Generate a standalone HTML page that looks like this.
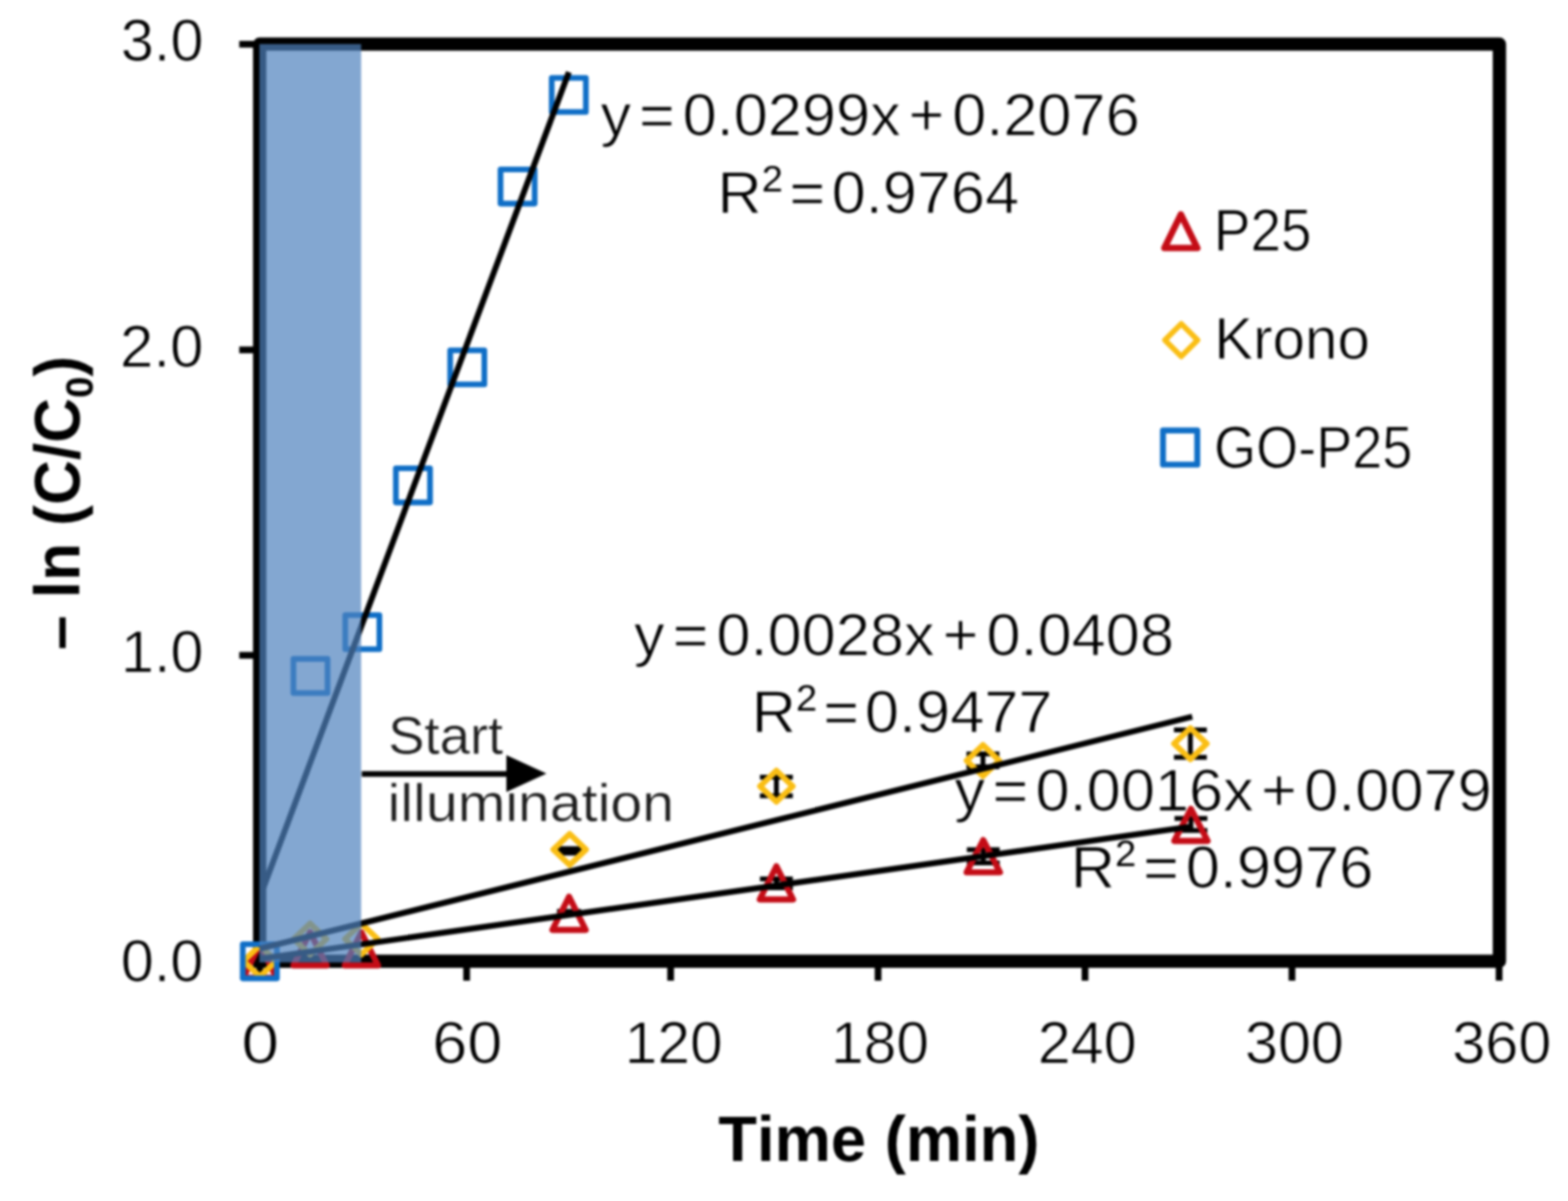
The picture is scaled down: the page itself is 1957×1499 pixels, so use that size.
<!DOCTYPE html>
<html lang="en">
<head>
<meta charset="utf-8">
<title>Photocatalytic kinetics: -ln(C/C0) versus time</title>
<style>
html,body{margin:0;padding:0;background:#fff;}
body{width:1957px;height:1499px;font-family:"Liberation Sans", Arial, Helvetica, sans-serif;}
svg text{font-family:"Liberation Sans", Arial, Helvetica, sans-serif;white-space:pre;}
</style>
</head>
<body>
<svg width="1957" height="1499" viewBox="0 0 1957 1499" role="img" aria-label="Chart of -ln(C/C0) versus time (min) for P25, Krono and GO-P25" font-family='"Liberation Sans", Arial, Helvetica, sans-serif' style="font-kerning:none;display:block">
<defs><filter id="soft" x="0" y="0" width="100%" height="100%" filterUnits="userSpaceOnUse" color-interpolation-filters="sRGB"><feGaussianBlur stdDeviation="1.35" edgeMode="duplicate"/></filter></defs>
<g filter="url(#soft)">
<rect width="1957" height="1499" fill="#fff"/>
<rect x="324.1" y="55.0" width="1547.3" height="1144.7" fill="none" stroke="#000" stroke-width="16.6" stroke-linejoin="round"/>
<rect x="315.80" y="1197.70" width="10.30" height="10.30" fill="#000"/>
<rect x="300.5" y="1195.5" width="18" height="8.4" fill="#000"/>
<rect x="320.1" y="1200" width="8.4" height="23.5" fill="#000"/>
<rect x="298.6" y="51.0" width="20" height="8.4" fill="#000"/>
<rect x="298.6" y="432.5" width="20" height="8.4" fill="#000"/>
<rect x="298.6" y="813.7" width="20" height="8.4" fill="#000"/>
<rect x="578.2" y="1200" width="8.4" height="24.0" fill="#000"/>
<rect x="832.8" y="1200" width="8.4" height="24.0" fill="#000"/>
<rect x="1091.7" y="1200" width="8.4" height="24.0" fill="#000"/>
<rect x="1350.0" y="1200" width="8.4" height="24.0" fill="#000"/>
<rect x="1608.3" y="1200" width="8.4" height="24.0" fill="#000"/>
<rect x="1866.8" y="1200" width="8.4" height="24.0" fill="#000"/>
<text x="150.77" y="76.40" font-size="75.00" textLength="103.12" lengthAdjust="spacingAndGlyphs" fill="#000" stroke="#fff" stroke-width="1" stroke-linejoin="round">3.0</text>
<text x="149.83" y="457.80" font-size="75.00" textLength="104.09" lengthAdjust="spacingAndGlyphs" fill="#000" stroke="#fff" stroke-width="1" stroke-linejoin="round">2.0</text>
<text x="150.96" y="839.30" font-size="75.00" textLength="102.93" lengthAdjust="spacingAndGlyphs" fill="#000" stroke="#fff" stroke-width="1" stroke-linejoin="round">1.0</text>
<text x="150.70" y="1224.60" font-size="75.00" textLength="103.20" lengthAdjust="spacingAndGlyphs" fill="#000" stroke="#fff" stroke-width="1" stroke-linejoin="round">0.0</text>
<text x="301.19" y="1327.10" font-size="75.00" textLength="47.12" lengthAdjust="spacingAndGlyphs" fill="#000" stroke="#fff" stroke-width="1" stroke-linejoin="round">0</text>
<text x="539.51" y="1327.10" font-size="75.00" textLength="87.46" lengthAdjust="spacingAndGlyphs" fill="#000" stroke="#fff" stroke-width="1" stroke-linejoin="round">60</text>
<text x="779.82" y="1327.10" font-size="75.00" textLength="122.14" lengthAdjust="spacingAndGlyphs" fill="#000" stroke="#fff" stroke-width="1" stroke-linejoin="round">120</text>
<text x="1037.33" y="1327.10" font-size="75.00" textLength="122.03" lengthAdjust="spacingAndGlyphs" fill="#000" stroke="#fff" stroke-width="1" stroke-linejoin="round">180</text>
<text x="1295.18" y="1327.10" font-size="75.00" textLength="123.41" lengthAdjust="spacingAndGlyphs" fill="#000" stroke="#fff" stroke-width="1" stroke-linejoin="round">240</text>
<text x="1553.68" y="1327.10" font-size="75.00" textLength="123.62" lengthAdjust="spacingAndGlyphs" fill="#000" stroke="#fff" stroke-width="1" stroke-linejoin="round">300</text>
<text x="1812.48" y="1327.10" font-size="75.00" textLength="123.62" lengthAdjust="spacingAndGlyphs" fill="#000" stroke="#fff" stroke-width="1" stroke-linejoin="round">360</text>
<text x="749.41" y="169.30" font-size="75.00" textLength="673.05" lengthAdjust="spacingAndGlyphs" fill="#000" stroke="#fff" stroke-width="1" stroke-linejoin="round" word-spacing="-11.22">y = 0.0299x + 0.2076</text>
<text x="895.52" y="266.30" font-size="75.00" textLength="376.42" lengthAdjust="spacingAndGlyphs" fill="#000" stroke="#fff" stroke-width="1" stroke-linejoin="round" word-spacing="-12.93">R<tspan font-size="46.5" dy="-27.0" stroke="none">2</tspan><tspan dy="27.0"> = 0.9764</tspan></text>
<text x="791.31" y="817.50" font-size="75.00" textLength="673.91" lengthAdjust="spacingAndGlyphs" fill="#000" stroke="#fff" stroke-width="1" stroke-linejoin="round" word-spacing="-11.01">y = 0.0028x + 0.0408</text>
<text x="938.32" y="913.60" font-size="75.00" textLength="375.22" lengthAdjust="spacingAndGlyphs" fill="#000" stroke="#fff" stroke-width="1" stroke-linejoin="round" word-spacing="-13.51">R<tspan font-size="46.5" dy="-27.0" stroke="none">2</tspan><tspan dy="27.0"> = 0.9477</tspan></text>
<text x="1191.31" y="1012.10" font-size="75.00" textLength="670.51" lengthAdjust="spacingAndGlyphs" fill="#000" stroke="#fff" stroke-width="1" stroke-linejoin="round" word-spacing="-11.84">y = 0.0016x + 0.0079</text>
<text x="1336.52" y="1108.20" font-size="75.00" textLength="377.44" lengthAdjust="spacingAndGlyphs" fill="#000" stroke="#fff" stroke-width="1" stroke-linejoin="round" word-spacing="-12.43">R<tspan font-size="46.5" dy="-27.0" stroke="none">2</tspan><tspan dy="27.0"> = 0.9976</tspan></text>
<path d="M711.0 1059.2V1064.8M696.0 1059.2h30M696.0 1064.8h30" fill="none" stroke="#000" stroke-width="5.8"/>
<path d="M969.0 969.9V993.3M948.5 969.9h41.0M948.5 993.3h41.0" fill="none" stroke="#000" stroke-width="6.0"/>
<path d="M1226.8 941.0V957.0M1206.3 941.0h41.0M1206.3 957.0h41.0" fill="none" stroke="#000" stroke-width="6.0"/>
<path d="M1485.7 911.0V945.2M1465.2 911.0h41.0M1465.2 945.2h41.0" fill="none" stroke="#000" stroke-width="6.0"/>
<path d="M710.2 1137.0V1141.0M695.2 1137.0h30M695.2 1141.0h30" fill="none" stroke="#000" stroke-width="5"/>
<path d="M969.0 1097.0V1108.0M948.5 1097.0h41.0M948.5 1108.0h41.0" fill="none" stroke="#000" stroke-width="6.0"/>
<path d="M1227.2 1060.5V1077.0M1206.7 1060.5h41.0M1206.7 1077.0h41.0" fill="none" stroke="#000" stroke-width="6.0"/>
<path d="M1486.4 1021.6V1036.5M1465.9 1021.6h41.0M1465.9 1036.5h41.0" fill="none" stroke="#000" stroke-width="6.0"/>
<path d="M324.3 1178.6L345.1 1220.2L303.5 1220.2Z" fill="none" stroke="#C40C16" stroke-width="7.6" stroke-linejoin="round"/>
<path d="M387.0 1163.6L407.8 1205.0L366.2 1205.0Z" fill="none" stroke="#C40C16" stroke-width="7.6" stroke-linejoin="round"/>
<path d="M451.0 1163.6L471.8 1205.0L430.2 1205.0Z" fill="none" stroke="#C40C16" stroke-width="7.6" stroke-linejoin="round"/>
<path d="M710.2 1119.2L731.0 1160.6L689.4 1160.6Z" fill="none" stroke="#C40C16" stroke-width="7.6" stroke-linejoin="round"/>
<path d="M969.0 1081.2L989.8 1122.6L948.2 1122.6Z" fill="none" stroke="#C40C16" stroke-width="7.6" stroke-linejoin="round"/>
<path d="M1227.2 1048.5L1248.0 1088.7L1206.4 1088.7Z" fill="none" stroke="#C40C16" stroke-width="7.6" stroke-linejoin="round"/>
<path d="M1486.4 1009.5L1507.2 1049.6L1465.6 1049.6Z" fill="none" stroke="#C40C16" stroke-width="7.6" stroke-linejoin="round"/>
<path d="M324.3 1180.1L344.7 1199.5L324.3 1218.9L303.9 1199.5Z" fill="none" stroke="#FABE14" stroke-width="7.2" stroke-linejoin="round"/>
<path d="M387.0 1152.6L407.4 1172.0L387.0 1191.4L366.6 1172.0Z" fill="none" stroke="#FABE14" stroke-width="7.2" stroke-linejoin="round"/>
<path d="M451.0 1152.6L471.4 1172.0L451.0 1191.4L430.6 1172.0Z" fill="none" stroke="#FABE14" stroke-width="7.2" stroke-linejoin="round"/>
<path d="M711.0 1040.9L731.4 1060.3L711.0 1079.7L690.6 1060.3Z" fill="none" stroke="#FABE14" stroke-width="7.2" stroke-linejoin="round"/>
<path d="M969.0 961.9L989.4 981.3L969.0 1000.7L948.6 981.3Z" fill="none" stroke="#FABE14" stroke-width="7.2" stroke-linejoin="round"/>
<path d="M1226.8 929.9L1247.2 949.3L1226.8 968.7L1206.4 949.3Z" fill="none" stroke="#FABE14" stroke-width="7.2" stroke-linejoin="round"/>
<path d="M1485.7 908.8L1506.1 928.2L1485.7 947.6L1465.3 928.2Z" fill="none" stroke="#FABE14" stroke-width="7.2" stroke-linejoin="round"/>
<rect x="303.0" y="1178.5" width="42.6" height="42.6" fill="none" stroke="#0F6EC6" stroke-width="7.1" stroke-linejoin="round"/>
<rect x="366.2" y="822.4" width="42.6" height="42.6" fill="none" stroke="#0F6EC6" stroke-width="7.1" stroke-linejoin="round"/>
<rect x="430.9" y="767.7" width="42.6" height="42.6" fill="none" stroke="#0F6EC6" stroke-width="7.1" stroke-linejoin="round"/>
<rect x="494.1" y="584.5" width="42.6" height="42.6" fill="none" stroke="#0F6EC6" stroke-width="7.1" stroke-linejoin="round"/>
<rect x="561.9" y="437.2" width="42.6" height="42.6" fill="none" stroke="#0F6EC6" stroke-width="7.1" stroke-linejoin="round"/>
<rect x="624.7" y="211.5" width="42.6" height="42.6" fill="none" stroke="#0F6EC6" stroke-width="7.1" stroke-linejoin="round"/>
<rect x="688.6" y="97.2" width="42.6" height="42.6" fill="none" stroke="#0F6EC6" stroke-width="7.1" stroke-linejoin="round"/>
<path d="M324.1 1120.5L710.0 90.0" stroke="#000" stroke-width="7.4" fill="none"/>
<path d="M324.1 1184.1L1488.0 894.5" stroke="#000" stroke-width="7.4" fill="none"/>
<path d="M324.1 1196.7L1487.0 1031.7" stroke="#000" stroke-width="7.4" fill="none"/>
<path d="M1473.8 267.8L1494.3 309.5L1453.3 309.5Z" fill="none" stroke="#C40C16" stroke-width="8.2" stroke-linejoin="round"/>
<path d="M1474.3 404.1L1494.7 424.5L1474.3 444.9L1453.9 424.5Z" fill="none" stroke="#FABE14" stroke-width="6.8" stroke-linejoin="round"/>
<rect x="1451.5" y="537.2" width="42.8" height="42.7" fill="none" stroke="#0F6EC6" stroke-width="7.4" stroke-linejoin="round"/>
<text x="1514.98" y="313.10" font-size="75.00" textLength="121.90" lengthAdjust="spacingAndGlyphs" fill="#000" stroke="#fff" stroke-width="1" stroke-linejoin="round">P25</text>
<text x="1515.53" y="448.30" font-size="75.00" textLength="194.23" lengthAdjust="spacingAndGlyphs" fill="#000" stroke="#fff" stroke-width="1" stroke-linejoin="round">Krono</text>
<text x="1515.31" y="583.70" font-size="75.00" textLength="247.53" lengthAdjust="spacingAndGlyphs" fill="#000" stroke="#fff" stroke-width="1" stroke-linejoin="round">GO-P25</text>
<rect x="323.8" y="55.0" width="126.9" height="1146.2" fill="#4F81BD" fill-opacity="0.70"/>
<text x="484.41" y="941.10" font-size="66.50" textLength="143.59" lengthAdjust="spacingAndGlyphs" fill="#1c1c1c" stroke="#fff" stroke-width="0.5" stroke-linejoin="round">Start</text>
<text x="483.82" y="1024.80" font-size="66.50" textLength="357.52" lengthAdjust="spacingAndGlyphs" fill="#1c1c1c" stroke="#fff" stroke-width="0.5" stroke-linejoin="round">illumination</text>
<path d="M451.5 966.0H640" stroke="#000" stroke-width="7.2" fill="none"/>
<path d="M632.0 942.6L682.0 965.6L632.0 988.6Z" fill="#000"/>
<text x="896.61" y="1448.50" font-size="79.00" textLength="400.72" lengthAdjust="spacingAndGlyphs" fill="#000" font-weight="bold" word-spacing="1.32">Time (min)</text>
<g transform="translate(99.0 809.0) rotate(-90)"><text x="-2.35" y="0" font-size="79.0" font-weight="bold" textLength="367.21" lengthAdjust="spacingAndGlyphs" fill="#000">– ln (C/C<tspan font-size="49.0" dy="16.6">0</tspan><tspan dy="-16.6">)</tspan></text></g>
</g>
</svg>
</body>
</html>
